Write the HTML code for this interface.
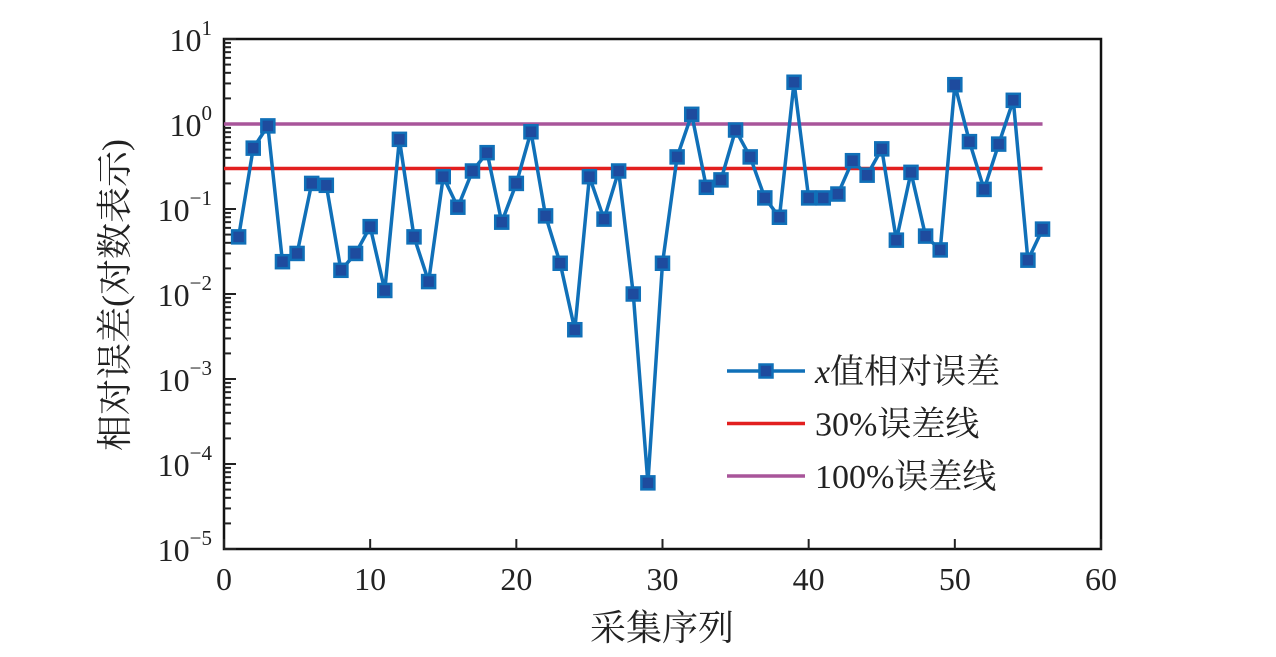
<!DOCTYPE html>
<html><head><meta charset="utf-8"><style>
body{margin:0;background:#fff;}
svg text{font-family:"Liberation Serif","Noto Serif CJK SC",serif;fill:#222;}
</style></head><body>
<svg id="chart" width="1276" height="652" xmlns="http://www.w3.org/2000/svg">
<g id="axes"></g>
<g id="series"></g>
<g id="legend"></g>
</svg>
<script>
const seq = [1,2,3,4,5,6,7,8,9,10,11,12,13,14,15,16,17,18,19,20,21,22,23,24,25,26,27,28,29,30,31,32,33,34,35,36,37,38,39,40,41,42,43,44,45,46,47,48,49,50,51,52,53,54,55,56];
const relErr = [0.047,0.52,0.95,0.024,0.030,0.20,0.19,0.019,0.030,0.062,0.011,0.66,0.047,0.014,0.24,0.105,0.28,0.46,0.07,0.20,0.81,0.083,0.023,0.0038,0.24,0.076,0.28,0.010,0.00006,0.023,0.41,1.3,0.18,0.22,0.85,0.41,0.135,0.08,3.1,0.135,0.135,0.15,0.37,0.25,0.51,0.043,0.27,0.048,0.033,2.9,0.62,0.17,0.58,1.9,0.025,0.058];
const refLines = [0.3, 1.0];
const xTicks = [0,10,20,30,40,50,60];
const yExps = [1,0,-1,-2,-3,-4,-5];

const L=224,R=1101,T=39,B=549;
const NS="http://www.w3.org/2000/svg";
const xs=v=>L+(v-0)/(60-0)*(R-L);
const ys=v=>T+(1-Math.log10(v))/6*(B-T);
function el(tag,attrs,parent,text){const e=document.createElementNS(NS,tag);for(const k in attrs)e.setAttribute(k,attrs[k]);if(text!==undefined)e.textContent=text;parent.appendChild(e);return e;}
const axes=document.getElementById('axes'),series=document.getElementById('series'),legend=document.getElementById('legend');

// frame
const frame=el('rect',{x:L,y:T,width:R-L,height:B-T,fill:'none',stroke:'#111','stroke-width':2.5},axes);



// y ticks
yExps.forEach(e=>{
  const y=ys(Math.pow(10,e));
  const t=el('line',{x1:L,x2:L+12,y1:y,y2:y,stroke:'#222','stroke-width':2},axes);
  
  
  const lab=el('text',{x:L-12,y:y+12,'text-anchor':'end','font-size':32},axes);
  
  
  lab.textContent='10';
  const sp=el('tspan',{dy:-16,'font-size':21},lab,String(e).replace('-','−'));
  if(e>-5){for(let m=2;m<=9;m++){const ym=ys(m*Math.pow(10,e-1));
    const mt=el('line',{x1:L,x2:L+7,y1:ym,y2:ym,stroke:'#222','stroke-width':2},axes);
    
    }}
});
// x ticks
xTicks.forEach(v=>{
  const x=xs(v);
  const t=el('line',{x1:x,x2:x,y1:B,y2:B-10,stroke:'#222','stroke-width':2},axes);
  
  
  const lab=el('text',{x:x,y:B+41,'text-anchor':'middle','font-size':32},axes,String(v));
  
  
});
const xt=el('text',{x:662,y:640,'text-anchor':'middle','font-size':36},axes,'采集序列');


const yt=el('text',{x:0,y:0,'text-anchor':'middle','font-size':36,transform:'translate(127,295) rotate(-90)'},axes,'相对误差(对数表示)');



// reference lines
const refColors=['#e21f1f','#a8559a'];
refLines.forEach((v,i)=>{
  const l=el('line',{x1:L,x2:xs(56),y1:ys(v),y2:ys(v),stroke:refColors[i],'stroke-width':3.5},series);
  
  
});
// series
const pts=seq.map((s,i)=>xs(s)+','+ys(relErr[i])).join(' ');
const pl=el('polyline',{points:pts,fill:'none',stroke:'#1070b8','stroke-width':3.5},series);


seq.forEach((s,i)=>{
  const r=el('rect',{x:xs(s)-6.5,y:ys(relErr[i])-6.5,width:13,height:13,fill:'#1e4b9e',stroke:'#1070b8','stroke-width':2.5},series);
  
  
});
// legend
const items=[['x值相对误差','#1070b8',true],['30%误差线','#e21f1f',false],['100%误差线','#a8559a',false]];
items.forEach((it,i)=>{
  const y=371+i*52.5;
  const g=el('g',{},legend);
  
  
  el('line',{x1:727,x2:805,y1:y,y2:y,stroke:it[1],'stroke-width':3.5},g);
  if(it[2])el('rect',{x:759.5,y:y-6.5,width:13,height:13,fill:'#1e4b9e',stroke:'#1070b8','stroke-width':2.5},g);
  const t=el('text',{x:815,y:y+12,'font-size':34},g);
  if(i===0){el('tspan',{'font-style':'italic'},t,'x');el('tspan',{},t,'值相对误差');}
  else t.textContent=it[0];
});
</script>
</body></html>
